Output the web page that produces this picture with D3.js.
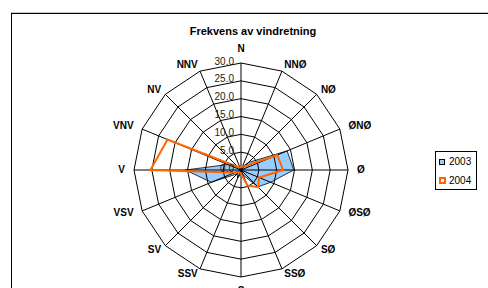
<!DOCTYPE html>
<html>
<head>
<meta charset="utf-8">
<script src="https://cdn.jsdelivr.net/npm/d3@7"></script>
<style>
  body { margin: 0; background: #fff; }
  svg { display: block; font-family: "Liberation Sans", Arial, sans-serif; }
</style>
</head>
<body>
<svg id="chart" width="488" height="288"></svg>
<script>
// wind directions, clockwise from north
var directions = ["N", "NNØ", "NØ", "ØNØ", "Ø", "ØSØ", "SØ", "SSØ",
                  "S", "SSV", "SV", "VSV", "V", "VNV", "NV", "NNV"];
// frequency per direction (percent)
var values2003 = [0.8, 1.0, 3.0, 14.0, 14.8, 9.0, 6.7, 1.5, 1.0, 2.5, 1.5, 9.0, 15.6, 4.0, 1.0, 0.8];
var values2004 = [0.8, 1.0, 1.5, 11.0, 11.8, 5.5, 6.8, 4.7, 1.0, 0.8, 0.8, 1.9, 25.4, 22.3, 1.2, 0.8];
var ringTicks = [0, 5, 10, 15, 20, 25, 30];
var seriesNames = ["2003", "2004"];

var svg = d3.select("#chart");
var cx = 241, cy = 170;

// frame of the chart area
svg.append("line").attr("x1", 11).attr("x2", 488).attr("y1", 12.5).attr("y2", 12.5)
  .attr("stroke", "#c8c8c8");
svg.append("rect").attr("x", 11.5).attr("y", 13.5).attr("width", 480).attr("height", 300)
  .attr("fill", "none").attr("stroke", "#000");

svg.append("text").attr("x", 253).attr("y", 32).attr("text-anchor", "middle")
  .attr("dominant-baseline", "middle").attr("font-size", 11).attr("font-weight", "bold")
  .text("Frekvens av vindretning");

var r = d3.scaleLinear().domain([0, 30]).range([0, 107]);
var step = 2 * Math.PI / directions.length;

var radial = d3.lineRadial()
  .angle(function (d, i) { return i * step; })
  .radius(function (d) { return r(d); })
  .curve(d3.curveLinearClosed);

var g = svg.append("g").attr("transform", "translate(" + cx + "," + cy + ")");

// 2003 filled area under the grid
g.append("path").datum(values2003)
  .attr("d", radial)
  .attr("fill", "#99ccff")
  .attr("stroke", "none");

// grid rings
ringTicks.slice(1).forEach(function (t) {
  g.append("path").datum(directions.map(function () { return t; }))
    .attr("d", radial)
    .attr("fill", "none").attr("stroke", "#000").attr("stroke-width", 1);
});

// spokes
g.selectAll(".spoke").data(directions).enter().append("line")
  .attr("class", "spoke")
  .attr("x1", 0).attr("y1", 0)
  .attr("x2", function (d, i) { return r(30) * Math.sin(i * step); })
  .attr("y2", function (d, i) { return -r(30) * Math.cos(i * step); })
  .attr("stroke", "#000").attr("stroke-width", 1);

// 2003 outline
g.append("path").datum(values2003)
  .attr("d", radial)
  .attr("fill", "none")
  .attr("stroke", "#000").attr("stroke-width", 0.8);

// 2004 line
g.append("path").datum(values2004)
  .attr("d", radial)
  .attr("fill", "none")
  .attr("stroke", "#ff6600").attr("stroke-width", 2)
  .attr("stroke-linejoin", "miter");

// value labels along north axis
g.selectAll(".tick").data(ringTicks).enter().append("text")
  .attr("x", -7)
  .attr("y", function (d) { return -r(d) - 1; })
  .attr("text-anchor", "end")
  .attr("dominant-baseline", "middle")
  .attr("font-size", 10)
  .attr("fill", "#222")
  .text(function (d) { return d.toFixed(1); });

// direction labels
g.selectAll(".dir").data(directions).enter().append("text")
  .attr("x", function (d, i) {
    var s = Math.sin(i * step);
    return (r(30) + 6) * s + (Math.abs(s) > 0.9 ? 3 * Math.sign(s) : 0);
  })
  .attr("y", function (d, i) {
    var c = Math.cos(i * step);
    return -(r(30) + (Math.abs(c) > 0.99 ? 14 : 6)) * c;
  })
  .attr("text-anchor", function (d, i) {
    var s = Math.sin(i * step);
    return s > 0.1 ? "start" : (s < -0.1 ? "end" : "middle");
  })
  .attr("dominant-baseline", "middle")
  .attr("font-size", 10)
  .attr("font-weight", "bold")
  .text(function (d) { return d; });

// legend
var lg = svg.append("g");
lg.append("rect").attr("x", 435.5).attr("y", 151.5).attr("width", 41).attr("height", 38)
  .attr("fill", "#fff").attr("stroke", "#000");
lg.append("rect").attr("x", 439.5).attr("y", 159.5).attr("width", 5).attr("height", 5)
  .attr("fill", "#99ccff").attr("stroke", "#000");
lg.append("rect").attr("x", 440).attr("y", 178).attr("width", 5).attr("height", 5)
  .attr("fill", "none").attr("stroke", "#ff6600").attr("stroke-width", 2);
lg.selectAll(".lt").data(seriesNames).enter().append("text")
  .attr("x", 449)
  .attr("y", function (d, i) { return 162 + i * 19; })
  .attr("dominant-baseline", "middle")
  .attr("font-size", 10)
  .text(function (d) { return d; });
</script>
</body>
</html>
